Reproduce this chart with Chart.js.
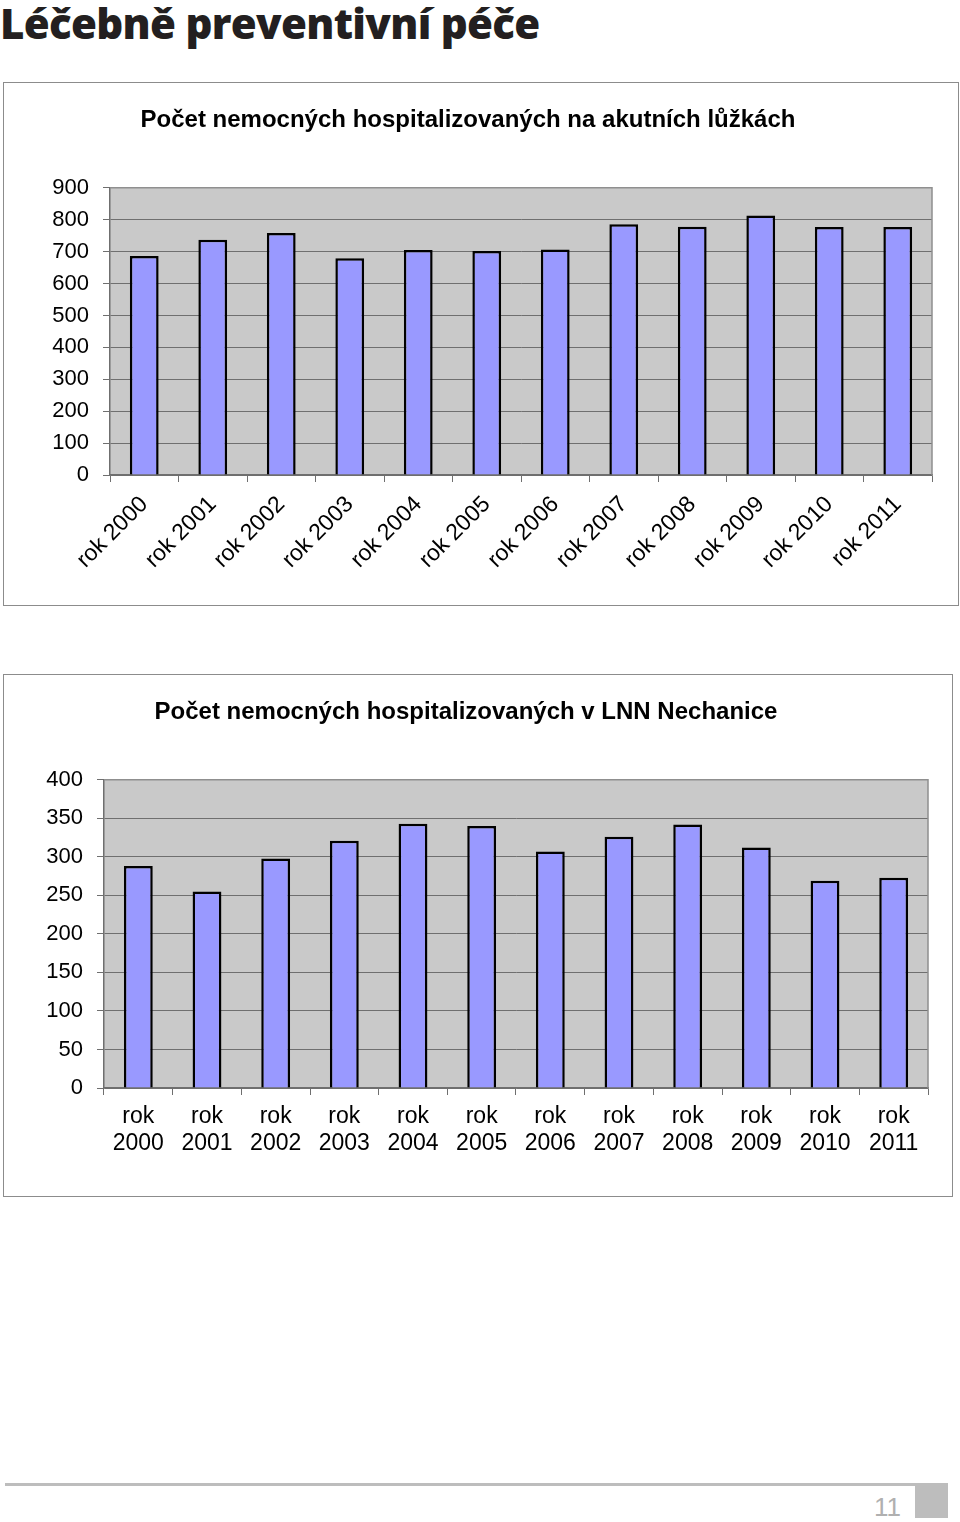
<!DOCTYPE html>
<html lang="cs">
<head>
<meta charset="utf-8">
<title>Léčebně preventivní péče</title>
<script src="https://cdn.jsdelivr.net/npm/chart.js@4.4.1/dist/chart.umd.min.js"></script>
<style>
  html, body { margin: 0; padding: 0; background: #fff; }
  body { width: 960px; height: 1522px; position: relative; overflow: hidden; }
  h1 {
    position: absolute; left: 0; top: -6px; margin: 0;
    font-family: 'Open Sans', 'Noto Sans', sans-serif; font-weight: 800;
    font-size: 42px; letter-spacing: -0.7px; color: #231f20;
  }
  .box { position: absolute; border: 1px solid #8c8c8c; background: #fff; }
  .box canvas { display: block; }
  #box1 { left: 3px; top: 82px; width: 954px; height: 522px; }
  #box2 { left: 3px; top: 674px; width: 948px; height: 521px; }
  .rule { position: absolute; left: 5px; top: 1483px; width: 910px; height: 3px; background: #bdbdbd; }
  .corner { position: absolute; left: 915px; top: 1483px; width: 33px; height: 35px; background: #bdbdbd; }
  .page {
    position: absolute; left: 874px; top: 1492px; font-family: 'Liberation Sans Narrow', 'Liberation Sans', sans-serif;
    font-size: 26px; color: #b0b0b0; font-weight: 400;
  }
</style>
</head>
<body>
<h1>Léčebně preventivní péče</h1>
<div class="box" id="box1"><canvas id="acuteChart"></canvas></div>
<div class="box" id="box2"><canvas id="lnnChart"></canvas></div>
<div class="rule"></div>
<div class="corner"></div>
<div class="page">11</div>
<script>
const years = ['rok 2000', 'rok 2001', 'rok 2002', 'rok 2003', 'rok 2004', 'rok 2005',
  'rok 2006', 'rok 2007', 'rok 2008', 'rok 2009', 'rok 2010', 'rok 2011'];
const acuteBeds = [686, 737, 758, 679, 705, 702, 707, 786, 778, 813, 777, 777];
const lnnNechanice = [288, 255, 298, 321, 343, 340, 307, 326, 342, 312, 269, 273];

const acuteTitle = 'Počet nemocných hospitalizovaných na akutních lůžkách';
const lnnTitle = 'Počet nemocných hospitalizovaných v LNN Nechanice';

Chart.defaults.font.family = "'Liberation Sans', Arial, sans-serif";
Chart.defaults.color = '#000';

// grey plot area like the old Excel charts
const plotBackground = {
  id: 'plotBackground',
  beforeDraw(chart) {
    const { ctx, chartArea: a } = chart;
    ctx.save();
    ctx.fillStyle = '#c9c9c9';
    ctx.fillRect(a.left, a.top, a.width, a.height);
    ctx.restore();
  },
  afterDatasetsDraw(chart) {
    const { ctx, chartArea: a } = chart;
    ctx.save();
    ctx.strokeStyle = '#8f8f8f';
    ctx.lineWidth = 1.5;
    ctx.beginPath();
    ctx.moveTo(a.left, a.top);
    ctx.lineTo(a.right, a.top);
    ctx.lineTo(a.right, a.bottom);
    ctx.stroke();
    ctx.restore();
  }
};

function makeBarChart(canvasId, opts) {
  return new Chart(document.getElementById(canvasId), {
    type: 'bar',
    data: {
      labels: opts.labels,
      datasets: [{
        data: opts.values,
        backgroundColor: '#9999ff',
        borderColor: '#000',
        borderWidth: 2.5,
        borderSkipped: 'bottom',
        barPercentage: 0.84,
        categoryPercentage: 0.5
      }]
    },
    options: {
      responsive: true,
      maintainAspectRatio: false,
      animation: false,
      layout: { padding: { left: 0, right: opts.padRight, top: 0, bottom: 0 } },
      plugins: {
        legend: { display: false },
        tooltip: { enabled: false },
        title: {
          display: true,
          text: opts.title,
          color: '#000',
          font: { size: 24, weight: 'bold', lineHeight: 1.2 },
          padding: { top: 23, bottom: 53 },
          align: 'center'
        }
      },
      scales: {
        x: {
          grid: { drawOnChartArea: false, offset: true, tickLength: 7, color: '#6f6f6f' },
          border: { color: '#6f6f6f', width: 1.5 },
          ticks: {
            autoSkip: false,
            maxRotation: opts.rotation,
            minRotation: opts.rotation,
            padding: opts.xPad,
            font: { size: opts.xFont, lineHeight: opts.xLine }
          },
          afterFit: (scale) => { scale.height = opts.xHeight; }
        },
        y: {
          min: 0,
          max: opts.max,
          ticks: { stepSize: opts.step, padding: 14, font: { size: 22 } },
          grid: { color: '#6f6f6f', tickLength: 7, lineWidth: 1 },
          border: { color: '#6f6f6f', width: 1.5 },
          afterFit: (scale) => { scale.width = opts.yWidth; }
        }
      }
    },
    plugins: [plotBackground]
  });
}

makeBarChart('acuteChart', {
  labels: years,
  values: acuteBeds,
  title: acuteTitle,
  max: 900, step: 100,
  rotation: 45, xPad: 9, xFont: 23, xLine: 1.2,
  xHeight: 130, yWidth: 106, padRight: 26
});

makeBarChart('lnnChart', {
  labels: years.map((y) => y.split(' ')),
  values: lnnNechanice,
  title: lnnTitle,
  max: 400, step: 50,
  rotation: 0, xPad: 8, xFont: 23, xLine: 1.18,
  xHeight: 108, yWidth: 100, padRight: 24
});
</script>
</body>
</html>
